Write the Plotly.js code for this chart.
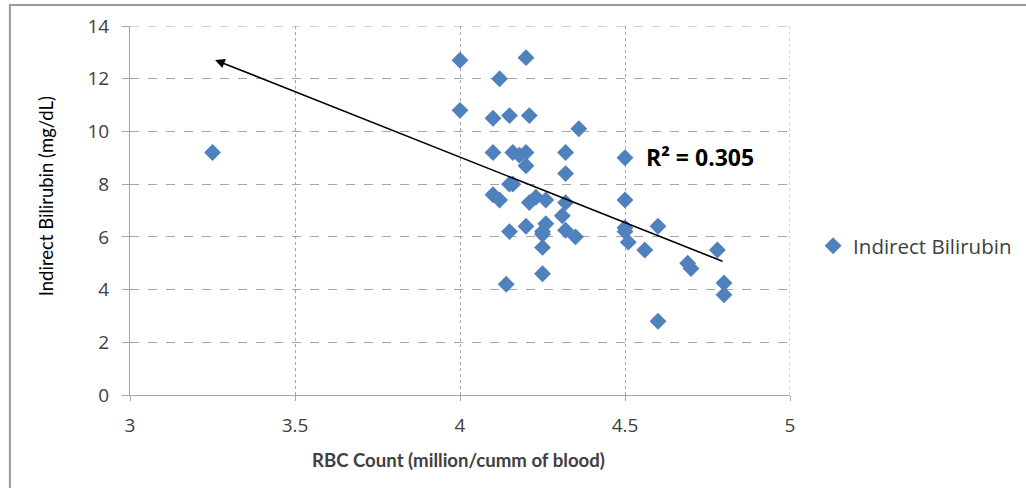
<!DOCTYPE html>
<html>
<head>
<meta charset="utf-8">
<script src="https://cdn.plot.ly/plotly-3.0.1.min.js"></script>
<style>
html,body{margin:0;padding:0;background:#fff;}
#chart{width:1026px;height:488px;}
</style>
</head>
<body>
<div id="chart"></div>
<script>
var seriesName = "Indirect Bilirubin";
var rbcCount = [3.25, 4.0, 4.2, 4.12, 4.0, 4.1, 4.15, 4.21, 4.36, 4.1, 4.16, 4.18, 4.2, 4.32, 4.5, 4.2, 4.32,
  4.15, 4.16, 4.1, 4.12, 4.21, 4.23, 4.26, 4.32, 4.5, 4.31, 4.26, 4.2, 4.15, 4.25, 4.25, 4.32, 4.35,
  4.5, 4.5, 4.51, 4.25, 4.25, 4.14, 4.6, 4.56, 4.78, 4.69, 4.7, 4.8, 4.8, 4.6];
var bilirubin = [9.2, 12.7, 12.8, 12.0, 10.8, 10.5, 10.6, 10.6, 10.1, 9.2, 9.2, 9.1, 9.2, 9.2, 9.0, 8.7, 8.4,
  8.0, 8.0, 7.6, 7.4, 7.3, 7.5, 7.4, 7.3, 7.4, 6.8, 6.5, 6.4, 6.2, 6.2, 6.1, 6.25, 6.0,
  6.35, 6.2, 5.8, 5.6, 4.6, 4.2, 6.4, 5.5, 5.5, 5.0, 4.8, 4.25, 3.8, 2.8];
var xTicks = [3, 3.5, 4, 4.5, 5];
var yTicks = [0, 2, 4, 6, 8, 10, 12, 14];
var arrowTail = [4.80, 5.05];
var arrowHead = [3.258, 12.71];
var r2Label = "R² = 0.305";
var xTitle = "RBC Count (million/cumm of blood)";
var yTitle = "Indirect Bilirubin (mg/dL)";

var trace = {
  x: rbcCount, y: bilirubin, mode: 'markers', type: 'scatter', name: seriesName,
  marker: {symbol: 'diamond', size: 13, color: '#4F81BD', line: {width: 0}}
};

var tickFont = {family: '"Open Sans", Lato, sans-serif', size: 19, color: '#404040'};

var layout = {
  width: 1026, height: 488,
  margin: {l: 130, r: 236, t: 26, b: 93, autoexpand: false},
  paper_bgcolor: '#fff', plot_bgcolor: '#fff',
  showlegend: true,
  legend: {x: 1.035, y: 0.404, xanchor: 'left', yanchor: 'middle', itemwidth: 30,
    font: {family: '"Open Sans", Lato, sans-serif', size: 20.5, color: '#404040'},
    bgcolor: 'rgba(0,0,0,0)'},
  xaxis: {
    range: [3, 5], tickvals: xTicks, ticktext: xTicks.map(String),
    showgrid: true, gridcolor: '#a6a6a6', griddash: 'dot', gridwidth: 1,
    showline: true, linecolor: '#a6a6a6', linewidth: 1,
    ticks: 'outside', ticklen: 5, tickcolor: '#a6a6a6',
    ticklabelstandoff: 8, automargin: false,
    zeroline: false, tickfont: tickFont
  },
  yaxis: {
    range: [0, 14], tickvals: yTicks, ticktext: yTicks.map(String),
    showgrid: true, gridcolor: '#a6a6a6', griddash: 'dash', gridwidth: 1,
    showline: true, linecolor: '#a6a6a6', linewidth: 1,
    ticks: 'outside', ticklen: 7, tickcolor: '#a6a6a6',
    ticklabelstandoff: 9, automargin: false,
    zeroline: false, tickfont: tickFont
  },
  shapes: [
    {type: 'rect', xref: 'paper', yref: 'paper', x0: -0.182, x1: 1.36, y0: -0.30, y1: 1.057,
     line: {color: '#9a9a9a', width: 2}, fillcolor: 'rgba(0,0,0,0)', layer: 'below'},
    {type: 'line', xref: 'x', yref: 'paper', x0: 5, x1: 5, y0: 0, y1: 1, line: {color: '#a6a6a6', width: 1, dash: 'dot'}},
    {type: 'line', xref: 'paper', yref: 'y', x0: 0, x1: 1, y0: 14, y1: 14, line: {color: '#a6a6a6', width: 1, dash: 'dash'}}
  ],
  annotations: [
    {x: arrowHead[0], y: arrowHead[1], ax: arrowTail[0], ay: arrowTail[1], xref: 'x', yref: 'y', axref: 'x', ayref: 'y',
     showarrow: true, arrowhead: 2, arrowsize: 1.2, arrowwidth: 1.6, arrowcolor: '#000', text: ''},
    {x: 4.727, y: 9.03, xref: 'x', yref: 'y', text: '<b>' + r2Label + '</b>', showarrow: false,
     font: {family: '"Open Sans", Lato, sans-serif', size: 23, color: '#000'}},
    {x: 0.498, y: -0.176, xref: 'paper', yref: 'paper', xanchor: 'center', yanchor: 'middle', showarrow: false,
     text: '<b>' + xTitle + '</b>', font: {family: 'Lato, "Open Sans", sans-serif', size: 18.6, color: '#404040'}},
    {x: -0.127, y: 0.539, xref: 'paper', yref: 'paper', xanchor: 'center', yanchor: 'middle', showarrow: false,
     textangle: -90, text: yTitle, font: {family: 'Lato, "Open Sans", sans-serif', size: 18.5, color: '#000'}}
  ]
};

Plotly.newPlot('chart', [trace], layout, {displayModeBar: false, responsive: false});
</script>
</body>
</html>
